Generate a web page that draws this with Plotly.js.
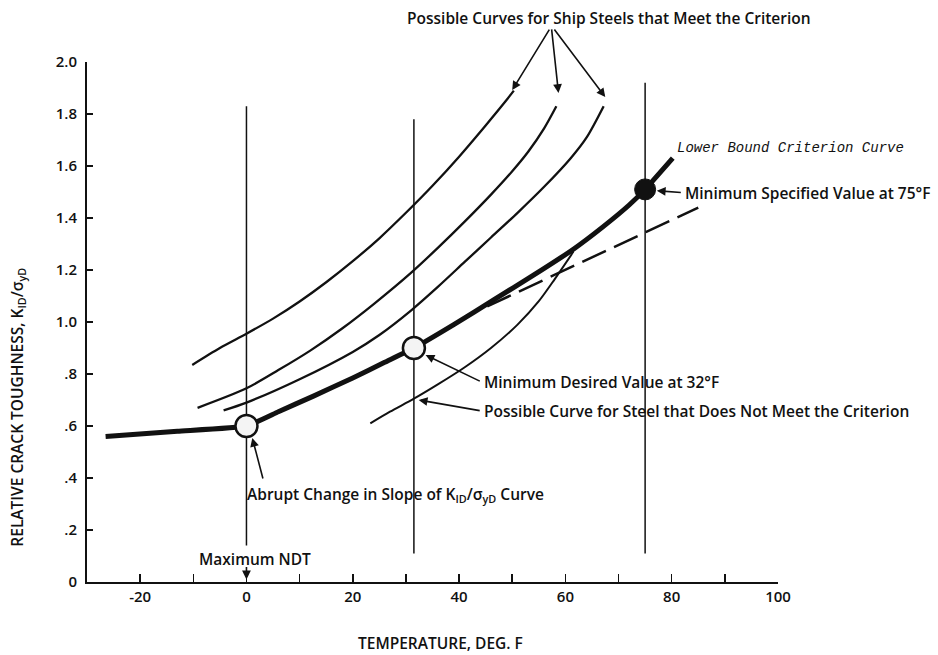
<!DOCTYPE html>
<html>
<head>
<meta charset="utf-8">
<script src="https://cdn.plot.ly/plotly-3.0.1.min.js"></script>
<style>html,body{margin:0;padding:0;background:#fff;}#chart{width:938px;height:655px;}</style>
</head>
<body>
<div id="chart"></div>
<script>
// ---- data (temperature in deg F, relative crack toughness K_ID/sigma_yD) ----
const lowerBoundX = [-26.5, -13, 0, 6, 12.6, 20, 26, 31.5, 39, 46.5, 54, 61.5, 67, 72, 75, 80.2];
const lowerBoundY = [0.56, 0.58, 0.60, 0.655, 0.715, 0.785, 0.845, 0.90, 0.99, 1.085, 1.18, 1.28, 1.365, 1.45, 1.51, 1.63];

const meetAX = [-10.2, -5, 0, 5, 10, 15, 20, 25, 30, 35, 40, 45, 48.7, 50.3];
const meetAY = [0.835, 0.90, 0.955, 1.013, 1.079, 1.153, 1.234, 1.322, 1.42, 1.524, 1.636, 1.756, 1.848, 1.89];

const meetBX = [-9.2, 0, 6, 12, 18, 24, 31, 36, 41, 46, 50, 53, 56, 58.3];
const meetBY = [0.67, 0.745, 0.815, 0.89, 0.975, 1.07, 1.19, 1.285, 1.385, 1.49, 1.58, 1.655, 1.745, 1.83];

const meetCX = [-4.3, 0, 10, 20, 25, 31, 36, 41, 46, 51, 56, 61, 64, 67.2];
const meetCY = [0.66, 0.69, 0.78, 0.885, 0.95, 1.045, 1.135, 1.23, 1.325, 1.42, 1.52, 1.63, 1.71, 1.83];

const notMeetX = [23.3, 27, 31.5, 36, 41, 46, 51, 55, 58, 61.5];
const notMeetY = [0.61, 0.655, 0.705, 0.76, 0.825, 0.90, 0.99, 1.08, 1.165, 1.27];

const dashedX = [45.3, 85];
const dashedY = [1.06, 1.44];

const ndtLineX = [0, 0];
const ndtLineY = [0.14, 1.83];
const line32X = [31.5, 31.5];
const line32Y = [0.11, 1.78];
const line75X = [75, 75];
const line75Y = [0.11, 1.92];

const openPointX = [0, 31.5];
const openPointY = [0.60, 0.90];
const specPointX = [75];
const specPointY = [1.51];

const xTickVals = [-20, 0, 20, 40, 60, 80, 100];
const xTickText = ["-20", "0", "20", "40", "60", "80", "100"];
const xMinorTickVals = [-10, 10, 30, 50, 70, 90];
const yTickVals = [0, 0.2, 0.4, 0.6, 0.8, 1.0, 1.2, 1.4, 1.6, 1.8, 2.0];
const yTickText = ["0", ".2", ".4", ".6", ".8", "1.0", "1.2", "1.4", "1.6", "1.8", "2.0"];

// ---- styling ----
const INK = '#111111';
const FONT = {family: '"Open Sans", sans-serif', size: 15.5, color: INK, weight: 600};
const TICK_FONT = {family: '"Open Sans", sans-serif', size: 15, color: INK, weight: 600};
const PLOT_FONT = {family: '"Liberation Mono", monospace', size: 14, color: INK, style: 'italic', weight: 'normal'};

function line(x, y, w, extra) {
  return Object.assign({
    x: x, y: y, type: 'scatter', mode: 'lines', hoverinfo: 'skip', showlegend: false,
    line: {color: INK, width: w, shape: 'spline', smoothing: 0.8}
  }, extra || {});
}

const traces = [
  line(ndtLineX, ndtLineY, 1.5, {line: {color: INK, width: 1.5}}),
  line(line32X, line32Y, 1.5, {line: {color: INK, width: 1.5}}),
  line(line75X, line75Y, 1.5, {line: {color: INK, width: 1.5}}),
  line(meetAX, meetAY, 2.3),
  line(meetBX, meetBY, 2.3),
  line(meetCX, meetCY, 2.3),
  line(notMeetX, notMeetY, 2.0),
  line(dashedX, dashedY, 2.5, {line: {color: INK, width: 2.5, dash: '26px,9px'}}),
  line(lowerBoundX, lowerBoundY, 5, {line: {color: INK, width: 5, shape: 'spline', smoothing: 0.4}}),
  {x: openPointX, y: openPointY, type: 'scatter', mode: 'markers', hoverinfo: 'skip', showlegend: false, cliponaxis: false,
   marker: {size: 22, color: '#f4f4f4', line: {color: INK, width: 2.5}}},
  {x: specPointX, y: specPointY, type: 'scatter', mode: 'markers', hoverinfo: 'skip', showlegend: false, cliponaxis: false,
   marker: {size: 21, color: INK, line: {color: INK, width: 1}}}
];

function arrow(x, y, ax, ay) {
  return {x: x, y: y, xref: 'x', yref: 'y', ax: ax, ay: ay, text: '', showarrow: true,
          arrowhead: 2, arrowsize: 1.1, arrowwidth: 1.6, arrowcolor: INK};
}
// label whose left-middle sits at the arrow tail
function arrowLabel(text, x, y, ax, ay) {
  return {text: text, x: x, y: y, xref: 'x', yref: 'y', ax: ax, ay: ay, showarrow: true,
          xanchor: 'left', yanchor: 'middle', font: FONT, standoff: 0, startstandoff: 2,
          arrowhead: 2, arrowsize: 1.1, arrowwidth: 1.6, arrowcolor: INK};
}
function label(text, x, y, font, extra) {
  return Object.assign({text: text, x: x, y: y, xref: 'paper', yref: 'paper', showarrow: false,
          xanchor: 'left', yanchor: 'middle', font: font}, extra || {});
}

const annotations = [
  label('Possible Curves for Ship Steels that Meet the Criterion', 0.755, 1.0846, FONT, {xanchor: 'center'}),
  arrow(50.0, 1.892, 38, -62),
  arrow(58.7, 1.881, -7, -65),
  arrow(67.5, 1.865, -52, -69),
  label('Lower Bound Criterion Curve', 0.851, 0.8346, PLOT_FONT),
  arrowLabel('Minimum Specified Value at 75°F', 77.2, 1.505, 26, 2),
  arrowLabel('Minimum Desired Value at 32°F', 33.7, 0.873, 56, 27),
  arrowLabel('Possible Curve for Steel that Does Not Meet the Criterion', 32.4, 0.70, 63, 11),
  label('Abrupt Change in Slope of K<sub>ID</sub>/σ<sub>yD</sub> Curve', 0.2287, 0.169, FONT),
  arrow(1.1, 0.554, 11, 42),
  label('Maximum NDT', 0.159, 0.044, FONT),
  arrow(0, 0.01, 0, -14),
  label('TEMPERATURE, DEG. F', 0.511, -0.1173, FONT, {xanchor: 'center'}),
  label('RELATIVE CRACK TOUGHNESS, K<sub>ID</sub>/σ<sub>yD</sub>', -0.1, 0.337, FONT, {xanchor: 'center', textangle: -90})
];

const tickStyle = {ticks: 'inside', ticklen: 8, tickwidth: 1.5, tickcolor: INK};

const layout = {
  width: 938, height: 655,
  margin: {l: 87, r: 160, t: 62, b: 73},
  paper_bgcolor: '#ffffff', plot_bgcolor: '#ffffff',
  font: FONT,
  showlegend: false,
  xaxis: Object.assign({
    range: [-30, 100], showgrid: false, zeroline: false, showline: true, linecolor: INK, linewidth: 2,
    tickmode: 'array', tickvals: xTickVals, ticktext: xTickText, tickfont: TICK_FONT, fixedrange: true,
    minor: {tickmode: 'array', tickvals: xMinorTickVals, ticks: 'inside', ticklen: 8, tickwidth: 1.5, tickcolor: INK, showgrid: false}
  }, tickStyle),
  yaxis: {
    range: [0, 2.0], showgrid: false, zeroline: false, showline: true, linecolor: INK, linewidth: 2,
    ticks: 'inside', ticklen: 6, tickwidth: 1.5, tickcolor: INK,
    tickmode: 'array', tickvals: yTickVals, ticktext: yTickText, tickfont: TICK_FONT, ticklabelstandoff: 5, fixedrange: true
  },
  annotations: annotations
};

Plotly.newPlot('chart', traces, layout, {displayModeBar: false, staticPlot: true});
</script>
</body>
</html>
